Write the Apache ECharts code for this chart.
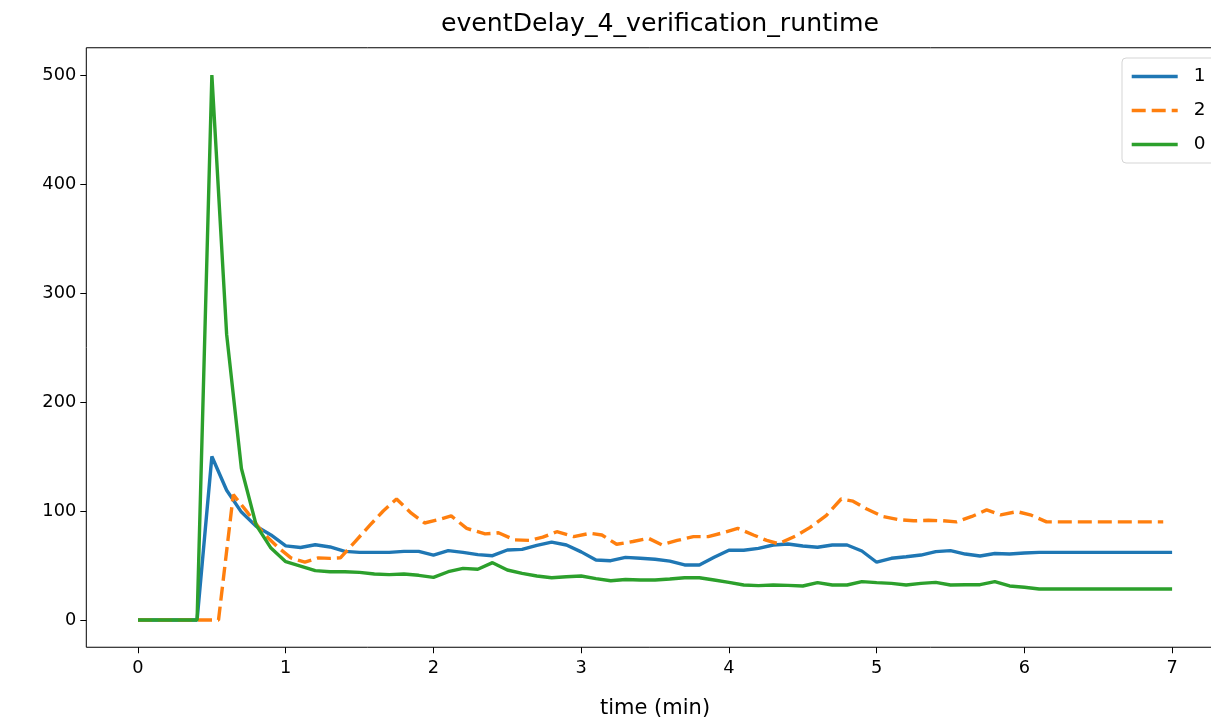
<!DOCTYPE html>
<html>
<head>
<meta charset="utf-8">
<script src="https://cdn.jsdelivr.net/npm/echarts@6/dist/echarts.min.js"></script>
<style>
html,body{margin:0;padding:0;background:#fff;}
#chart{width:1211px;height:717px;}
</style>
</head>
<body>
<div id="chart"></div>
<script>
const chartTitle = 'eventDelay_4_verification_runtime';
const xAxisName = 'time (min)';
const xTicks = [0, 1, 2, 3, 4, 5, 6, 7];
const yTicks = [0, 100, 200, 300, 400, 500];

const gridTimes = [0,0.1,0.2,0.3,0.4,0.5,0.6,0.7,0.8,0.9,
  1.0,1.1,1.2,1.3,1.4,1.5,1.6,1.7,1.8,1.9,
  2.0,2.1,2.2,2.3,2.4,2.5,2.6,2.7,2.8,2.9,
  3.0,3.1,3.2,3.3,3.4,3.5,3.6,3.7,3.8,3.9,
  4.0,4.1,4.2,4.3,4.4,4.5,4.6,4.7,4.8,4.9,
  5.0,5.1,5.2,5.3,5.4,5.5,5.6,5.7,5.8,5.9,
  6.0,6.1,6.2,6.3,6.4,6.5,6.6,6.7,6.8,6.9,7.0];

const series1 = [0,0,0,0,0,150,119,99,86,78,
  68,66.5,69,67,63,62,62,62,63,63,
  59.6,63.6,62,60,59,64.2,64.8,68.5,71.5,68.8,
  62.5,55,54.4,57.5,56.6,55.7,54,50.5,50.5,57.5,
  64,64,65.7,68.8,69.7,67.9,66.7,68.8,68.8,63.3,
  53,56.6,58,59.6,62.7,63.6,60.5,58.7,61,60.5,
  61.5,62,62,62,62,62,62,62,62,62,62];

const series0 = [0,0,0,0,0,500,262,139,87,66,
  53.5,49.5,45.3,44.3,44.3,43.7,42.2,41.6,42.2,41,
  39.1,44.3,47.4,46.5,52.6,45.9,42.8,40.4,38.8,39.7,
  40.4,38,36,37.2,36.7,36.7,37.6,38.8,38.8,36.7,
  34.5,32.1,31.5,32.1,31.8,31.2,34.3,32.1,32.1,35.2,
  34.3,33.6,32.1,33.6,34.5,32.1,32.4,32.4,35.2,31.2,
  30,28.4,28.4,28.4,28.4,28.4,28.4,28.4,28.4,28.4,28.4];

const series2Times = [0,0.1,0.2,0.3,0.4,0.545,0.645,0.745,0.845,0.945,
  1.035,1.13,1.22,1.3,1.37,1.47,1.57,1.66,1.75,1.85,1.94,
  2.03,2.12,2.225,2.35,2.44,2.55,2.65,2.74,2.835,2.95,
  3.06,3.14,3.24,3.35,3.455,3.545,3.65,3.76,3.86,3.96,
  4.06,4.166,4.256,4.335,4.45,4.55,4.66,4.76,4.84,4.93,
  5.04,5.15,5.25,5.35,5.45,5.54,5.645,5.745,5.84,5.95,
  6.04,6.15,6.25,6.35,6.45,6.55,6.65,6.75,6.85,6.94];
const series2 = [0,0,0,0,0,0,115,98,80,67,
  57,53,57,56.5,57,72,87,100,111,98,89,
  92,95.5,84,79,80,73.5,73,76,81,76.5,
  79.5,78,69.5,72,75,69,73,76.5,76.5,80,
  84,78,73,70,77,85,96,111,109,102,
  95,92,91,91.5,91,90,95,101,96.5,99.4,
  96.5,90,90,90,90,90,90,90,90,90];

const seriesNames = ['1', '2', '0'];
const colors = {'1': '#1f77b4', '2': '#ff7f0e', '0': '#2ca02c'};

function pairs(xs, ys) { return xs.map((x, i) => [x, ys[i]]); }

const FONT = 'DejaVu Sans';
const LW = 3.4;

const chart = echarts.init(document.getElementById('chart'), null, {renderer: 'canvas'});
chart.setOption({
  animation: false,
  backgroundColor: '#fff',
  title: {
    text: chartTitle,
    left: 655, textAlign: 'center', top: 7,
    textStyle: {fontFamily: FONT, fontSize: 25.2, fontWeight: 'normal', color: '#000'}
  },
  legend: {
    data: seriesNames,
    orient: 'vertical',
    left: 1122, top: 58,
    padding: [9, 10, 9, 8],
    itemWidth: 46, itemHeight: 18, itemGap: 15,
    backgroundColor: '#fff',
    borderColor: '#d5d5d5', borderWidth: 1, borderRadius: 4,
    itemStyle: {color: 'transparent', borderWidth: 0, opacity: 0},
    lineStyle: {width: LW},
    textStyle: {fontFamily: FONT, fontSize: 18.5, color: '#000', padding: [0, 0, 0, 11]}
  },
  grid: {
    left: 86.3, top: 47.75, width: 1137.5, height: 599.5,
    containLabel: false, outerBoundsMode: 'none',
    show: true, borderColor: '#000', borderWidth: 1, backgroundColor: 'transparent'
  },
  xAxis: {
    type: 'value', min: -0.35, max: 7.35,
    name: xAxisName, nameLocation: 'middle', nameGap: 51,
    nameTextStyle: {fontFamily: FONT, fontSize: 21, color: '#000'},
    axisLine: {show: false, onZero: false},
    axisTick: {show: true, inside: false, length: 6, lineStyle: {color: '#000', width: 1}, customValues: xTicks},
    axisLabel: {fontFamily: FONT, fontSize: 17.8, color: '#000', margin: 12, customValues: xTicks,
      formatter: v => String(v)},
    splitLine: {show: false}
  },
  yAxis: {
    type: 'value', min: -25, max: 525,
    axisLine: {show: false, onZero: false},
    axisTick: {show: true, inside: false, length: 6, lineStyle: {color: '#000', width: 1}, customValues: yTicks},
    axisLabel: {fontFamily: FONT, fontSize: 17.8, color: '#000', margin: 10, customValues: yTicks,
      formatter: v => String(v)},
    splitLine: {show: false}
  },
  series: [
    {name: '1', type: 'line', data: pairs(gridTimes, series1), showSymbol: false, symbol: 'none',
      lineStyle: {color: colors['1'], width: LW}, itemStyle: {color: colors['1']}},
    {name: '2', type: 'line', data: pairs(series2Times, series2), showSymbol: false, symbol: 'none',
      lineStyle: {color: colors['2'], width: LW, type: [14, 6]}, itemStyle: {color: colors['2']}},
    {name: '0', type: 'line', data: pairs(gridTimes, series0), showSymbol: false, symbol: 'none',
      lineStyle: {color: colors['0'], width: LW}, itemStyle: {color: colors['0']}}
  ]
});
</script>
</body>
</html>
